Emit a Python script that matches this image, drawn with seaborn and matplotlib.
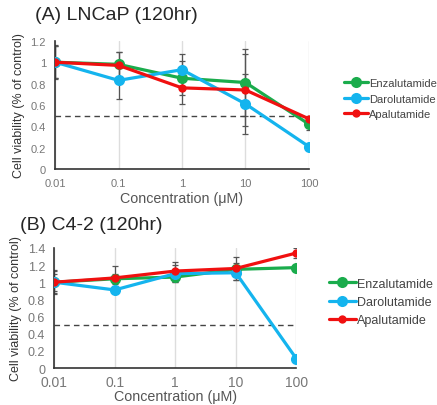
import numpy as np
import pandas as pd
import matplotlib
matplotlib.use('Agg')
import matplotlib.pyplot as plt
import seaborn as sns

conc = [0.01, 0.1, 1, 10, 100]
conc_labels = ['0.01', '0.1', '1', '10', '100']
drugs = ['Enzalutamide', 'Darolutamide', 'Apalutamide']
colors = {'Enzalutamide': '#1aac4c', 'Darolutamide': '#14b4ee', 'Apalutamide': '#f01010'}
msize = {'Enzalutamide': 8, 'Darolutamide': 8, 'Apalutamide': 6}

# (A) LNCaP
lncap_mean = {
    'Enzalutamide': [1.00, 0.98, 0.85, 0.81, 0.42],
    'Darolutamide': [1.00, 0.83, 0.93, 0.61, 0.21],
    'Apalutamide': [1.00, 0.97, 0.76, 0.74, 0.47],
}
lncap_err = {
    'Enzalutamide': [0.16, 0.12, 0.16, 0.31, 0.05],
    'Darolutamide': [0.15, 0.17, 0.15, 0.28, 0.02],
    'Apalutamide': [0.15, 0.13, 0.15, 0.34, 0.03],
}

# (B) C4-2
c42_mean = {
    'Enzalutamide': [1.00, 1.04, 1.06, 1.15, 1.17],
    'Darolutamide': [1.00, 0.91, 1.10, 1.11, 0.11],
    'Apalutamide': [1.00, 1.05, 1.13, 1.16, 1.34],
}
c42_err = {
    'Enzalutamide': [0.14, 0.06, 0.06, 0.07, 0.03],
    'Darolutamide': [0.13, 0.03, 0.10, 0.09, 0.02],
    'Apalutamide': [0.10, 0.14, 0.11, 0.13, 0.06],
}

sns.set_style('white')
plt.rcParams['font.family'] = ['Liberation Sans', 'DejaVu Sans']

fig = plt.figure(figsize=(4.37, 4.06), dpi=100)
ax1 = fig.add_axes([0.126, 0.581, 0.581, 0.316])
ax2 = fig.add_axes([0.124, 0.091, 0.554, 0.296])


def draw(ax, means, errs, ymax, title, title_x, title_y, legend_x, legend_fs, tick_fs):
    for d in drugs:
        df = pd.DataFrame({'conc': conc, 'viab': means[d]})
        ax.errorbar(conc, means[d], yerr=errs[d], fmt='none', ecolor='#555555',
                    elinewidth=0.9, capsize=2.5, capthick=0.9, zorder=1)
        sns.lineplot(data=df, x='conc', y='viab', ax=ax, color=colors[d],
                     marker='o', markersize=msize[d], markeredgewidth=0,
                     linewidth=2.3, label=d, zorder=3)
    ax.axhline(0.5, color='#444444', linestyle=(0, (4, 3)), linewidth=1.0, zorder=2)
    ax.set_xscale('log')
    ax.set_xlim(0.01, 100)
    ax.set_ylim(0, ymax)
    ax.set_xticks(conc)
    ax.set_xticklabels(conc_labels)
    ax.minorticks_off()
    yt = np.round(np.arange(0, ymax + 0.001, 0.2), 1)
    ax.set_yticks(yt)
    ax.set_yticklabels(['0' if v == 0 else ('1' if v == 1 else f'{v:g}') for v in yt])
    ax.grid(True, axis='x', color='#dddddd', linewidth=1)
    for s in ['top', 'right']:
        ax.spines[s].set_visible(False)
    for s in ['left', 'bottom']:
        ax.spines[s].set_color('#333333')
        ax.spines[s].set_linewidth(1.2)
    ax.tick_params(axis='both', colors='#333333', labelcolor='#777777',
                   labelsize=tick_fs, length=3, width=1, direction='out')
    ax.set_ylabel('Cell viability (% of control)', fontsize=9, color='#333333', labelpad=4)
    fig.text(title_x, title_y, title, fontsize=14, ha='left', va='center')
    ax.legend(loc='center left', bbox_to_anchor=(legend_x, 0.55), frameon=False,
              fontsize=legend_fs, handlelength=2.1, handletextpad=0.1, labelspacing=0.5,
              labelcolor='#444444')


draw(ax1, lncap_mean, lncap_err, 1.2, '(A) LNCaP (120hr)', 35 / 437, 1 - 16 / 406,
     1.10, 8.0, 8.0)
ax1.set_xlabel('Concentration (μM)', fontsize=10.3, color='#555555', labelpad=2)
draw(ax2, c42_mean, c42_err, 1.4, '(B) C4-2 (120hr)', 20 / 437, 1 - 225 / 406,
     1.09, 9.0, 9.0)
ax2.tick_params(axis='x', labelsize=10, pad=2)
ax2.set_xlabel('Concentration (μM)', fontsize=10.3, color='#555555', labelpad=0)

fig.savefig('out.png', dpi=100)
